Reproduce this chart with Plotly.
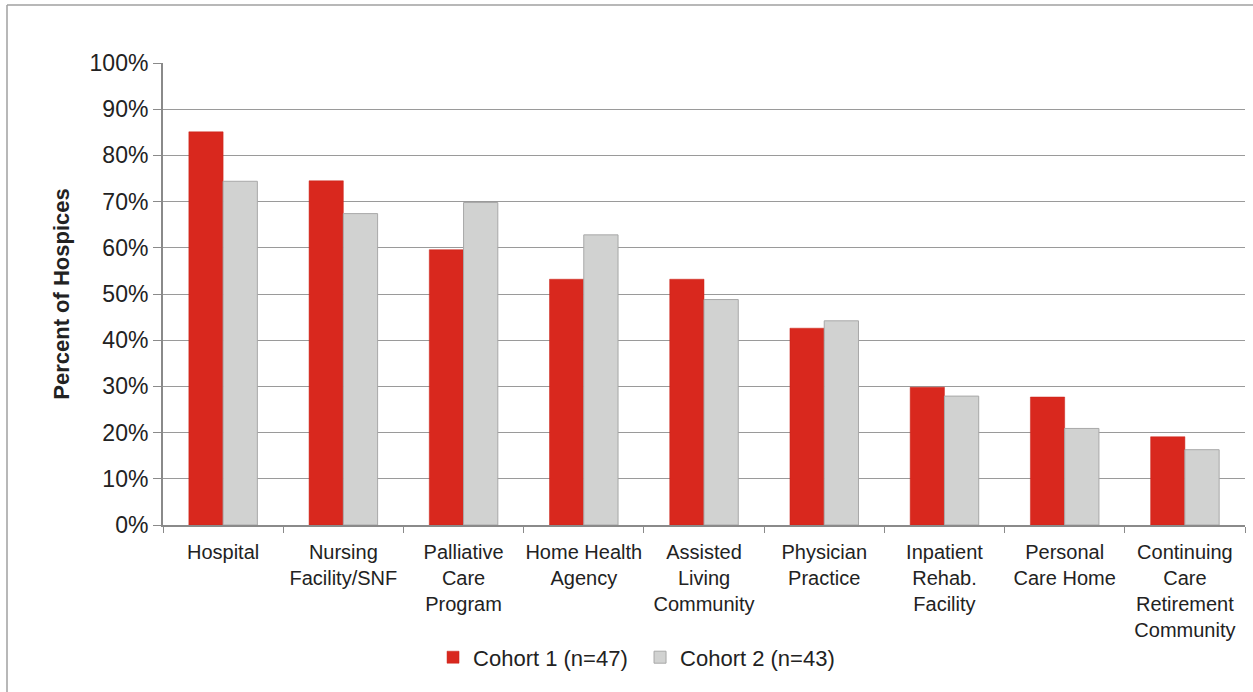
import plotly.graph_objects as go

categories = ["Hospital", "Nursing<br>Facility/SNF", "Palliative<br>Care<br>Program",
              "Home Health<br>Agency", "Assisted<br>Living<br>Community", "Physician<br>Practice",
              "Inpatient<br>Rehab.<br>Facility", "Personal<br>Care Home",
              "Continuing<br>Care<br>Retirement<br>Community"]
cohort1 = [85.1, 74.5, 59.6, 53.2, 53.2, 42.6, 29.8, 27.7, 19.1]
cohort2 = [74.4, 67.4, 69.8, 62.8, 48.8, 44.2, 27.9, 20.9, 16.3]
tick_vals = [0, 10, 20, 30, 40, 50, 60, 70, 80, 90, 100]
tick_text = [f"{v}%" for v in tick_vals]

FONT = "Liberation Sans, Arial, sans-serif"

fig = go.Figure()
fig.add_trace(go.Bar(x=categories, y=cohort1, name="Cohort 1 (n=47)",
                     marker=dict(color="#D9281E", line=dict(color="#C8241B", width=0.5))))
fig.add_trace(go.Bar(x=categories, y=cohort2, name="Cohort 2 (n=43)",
                     marker=dict(color="#D1D2D1", line=dict(color="#A8A8A8", width=1))))

fig.update_layout(
    width=1253, height=692,
    margin=dict(l=163, r=8, t=63, b=167),
    barmode="group", bargap=0.43, bargroupgap=0,
    paper_bgcolor="white", plot_bgcolor="white",
    font=dict(family=FONT, color="#222222"),
    showlegend=True,
    legend=dict(orientation="h", xref="container", yref="container",
                x=0.3456, y=0.05, xanchor="left", yanchor="middle",
                font=dict(size=22), itemwidth=30, tracegroupgap=0,
                entrywidth=162, entrywidthmode="pixels"),
    xaxis=dict(type="category", tickson="boundaries", ticks="outside", ticklen=6,
               tickcolor="#8A8A8A", showline=True, linecolor="#8A8A8A", linewidth=2,
               tickfont=dict(size=20), tickangle=0, showgrid=False, automargin=False,
               ticklabelstandoff=8),
    yaxis=dict(range=[0, 100], tickvals=tick_vals, ticktext=tick_text,
               ticks="outside", ticklen=8, tickcolor="#8A8A8A",
               showline=True, linecolor="#8A8A8A", linewidth=2,
               showgrid=True, gridcolor="#9A9A9A", gridwidth=1,
               tickfont=dict(size=23), zeroline=False, automargin=False,
               title=dict(text="<b>Percent of Hospices</b>", font=dict(size=22), standoff=14)),
    shapes=[
        dict(type="line", xref="paper", yref="paper", x0=(7-163)/1082, x1=1.02,
             y0=(525-5)/462, y1=(525-5)/462, line=dict(color="#A0A0A0", width=1.5)),
        dict(type="line", xref="paper", yref="paper", x0=(7-163)/1082, x1=(7-163)/1082,
             y0=(525-5)/462, y1=-0.5, line=dict(color="#A0A0A0", width=1.5)),
    ],
)

fig.write_html("out.html", config={"displayModeBar": False},
               post_script="document.body.style.margin='0';")
